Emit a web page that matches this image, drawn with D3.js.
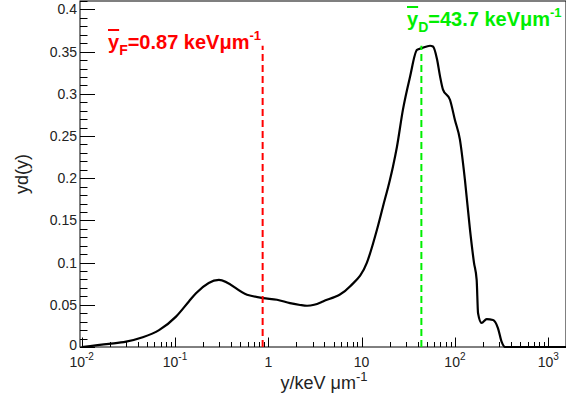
<!DOCTYPE html>
<html>
<head>
<meta charset="utf-8">
<script src="https://cdn.jsdelivr.net/npm/d3@7"></script>
<style>
  body { margin: 0; background: #fff; }
  text { font-family: "Liberation Sans", Arial, sans-serif; }
</style>
</head>
<body>
<div id="chart"></div>
<script>
// lineal energy y (keV/um) and yd(y)
var lineal_energy = [0.01, 0.0196, 0.0299, 0.0451, 0.0675, 0.1026, 0.141, 0.168, 0.296,
  0.592, 0.877, 1.24, 1.71, 2.19, 2.60, 3.1, 3.85, 7.50, 11.4, 14.6,
  16.9, 20.1, 21.7, 23.9, 27.7, 33.0, 39.2, 44.1, 54.1, 58.2,
  64.3, 69.2, 74.5, 88.5, 100, 113, 128, 145, 160, 171,
  177, 193, 219, 256, 289, 317, 344, 600, 1550];
var yd_values = [0, 0.0036, 0.0063, 0.0115, 0.020, 0.036, 0.054, 0.0637, 0.0795,
  0.062, 0.058, 0.056, 0.052, 0.0498, 0.0489, 0.0500, 0.0540, 0.0716, 0.10, 0.139,
  0.166, 0.198, 0.214, 0.237, 0.281, 0.32, 0.352, 0.354, 0.357, 0.356,
  0.341, 0.321, 0.305, 0.293, 0.269, 0.246, 0.198, 0.139, 0.10, 0.0795,
  0.040, 0.0285, 0.033, 0.032, 0.0225, 0.006, 0, 0, 0];

var y_major_ticks = [0, 0.05, 0.1, 0.15, 0.2, 0.25, 0.3, 0.35, 0.4];
var x_major_ticks = [0.01, 0.1, 1, 10, 100, 1000];
var x_tick_labels = [["10", "-2"], ["10", "-1"], ["1", ""], ["10", ""], ["10", "2"], ["10", "3"]];

var mean_names = ["F", "D"];
var mean_values = [0.87, 43.7];
var mean_colors = ["#ff0000", "#00ee00"];

var create_chart = function() {
  var width = 566, height = 401;
  var left = 80, right = 566, top = 1, bottom = 347;

  var svg = d3.select("#chart").append("svg")
      .attr("width", width)
      .attr("height", height);

  svg.append("rect").attr("width", width).attr("height", height).attr("fill", "#fff");

  var x_scale = d3.scaleLog().domain([0.0096, 1550]).range([left, right]);
  var y_scale = d3.scaleLinear().domain([0, 0.41]).range([bottom, top]);

  // frame
  svg.append("rect")
      .attr("x", left).attr("y", top)
      .attr("width", right - left).attr("height", bottom - top)
      .attr("fill", "none").attr("stroke", "#000").attr("stroke-width", 1);

  // y ticks (inside, ROOT style)
  var y_minor = d3.range(0, 0.4101, 0.01).filter(function(v) {
    return Math.abs(v / 0.05 - Math.round(v / 0.05)) > 1e-6;
  });
  svg.selectAll(".yminor").data(y_minor).enter().append("line")
      .attr("x1", left).attr("x2", left + 7.5)
      .attr("y1", function(d) { return Math.round(y_scale(d)) + 0.5; })
      .attr("y2", function(d) { return Math.round(y_scale(d)) + 0.5; })
      .attr("stroke", "#000");
  svg.selectAll(".ymajor").data(y_major_ticks).enter().append("line")
      .attr("x1", left).attr("x2", left + 15)
      .attr("y1", function(d) { return Math.round(y_scale(d)) + 0.5; })
      .attr("y2", function(d) { return Math.round(y_scale(d)) + 0.5; })
      .attr("stroke", "#000");
  svg.selectAll(".ylabel").data(y_major_ticks).enter().append("text")
      .attr("x", 77)
      .attr("y", function(d) { return y_scale(d) + (d === 0 ? 3 : 5); })
      .attr("text-anchor", "end")
      .attr("font-size", 14)
      .attr("fill", "#222")
      .text(function(d) { return d === 0 ? "0" : String(+d.toFixed(2)); });

  // x ticks (log)
  var x_minor = [];
  for (var e = -2; e <= 3; e++) {
    for (var m = 2; m <= 9; m++) {
      var v = m * Math.pow(10, e);
      if (v < 1550) x_minor.push(v);
    }
  }
  svg.selectAll(".xminor").data(x_minor).enter().append("line")
      .attr("x1", function(d) { return Math.round(x_scale(d)) + 0.5; })
      .attr("x2", function(d) { return Math.round(x_scale(d)) + 0.5; })
      .attr("y1", bottom).attr("y2", bottom - 5)
      .attr("stroke", "#000");
  svg.selectAll(".xmajor").data(x_major_ticks).enter().append("line")
      .attr("x1", function(d) { return Math.round(x_scale(d)) + 0.5; })
      .attr("x2", function(d) { return Math.round(x_scale(d)) + 0.5; })
      .attr("y1", bottom).attr("y2", bottom - 9.5)
      .attr("stroke", "#000");
  var xlab = svg.selectAll(".xlabel").data(x_major_ticks).enter().append("text")
      .attr("x", function(d) { return x_scale(d); })
      .attr("y", 367)
      .attr("text-anchor", "middle")
      .attr("font-size", 14)
      .attr("fill", "#222");
  xlab.each(function(d, i) {
    var t = d3.select(this);
    t.append("tspan").text(x_tick_labels[i][0]);
    if (x_tick_labels[i][1]) {
      t.append("tspan").attr("dy", -7).attr("font-size", 10).text(x_tick_labels[i][1]);
    }
  });

  // axis titles
  var xt = svg.append("text")
      .attr("x", 324).attr("y", 389)
      .attr("text-anchor", "middle")
      .attr("font-size", 18)
      .attr("fill", "#222");
  xt.append("tspan").text("y/keV \u03bcm");
  xt.append("tspan").attr("dy", -8).attr("font-size", 13).text("-1");

  svg.append("text")
      .attr("transform", "translate(28,174) rotate(-90)")
      .attr("text-anchor", "middle")
      .attr("font-size", 18)
      .attr("fill", "#222")
      .text("yd(y)");

  // spectrum
  var points = lineal_energy.map(function(d, i) { return [d, yd_values[i]]; });
  var line = d3.line()
      .x(function(d) { return x_scale(d[0]); })
      .y(function(d) { return y_scale(d[1]); })
      .curve(d3.curveMonotoneX);
  svg.append("path")
      .attr("d", line(points))
      .attr("fill", "none")
      .attr("stroke", "#000")
      .attr("stroke-width", 2.2)
      .attr("stroke-linejoin", "round");

  // mean markers
  var y_top = d3.max(yd_values);
  var label_pos = [[108, 49], [407, 26]];
  for (var k = 0; k < mean_values.length; k++) {
    svg.append("line")
        .attr("x1", x_scale(mean_values[k])).attr("x2", x_scale(mean_values[k]))
        .attr("y1", bottom).attr("y2", y_scale(y_top))
        .attr("stroke", mean_colors[k])
        .attr("stroke-width", 2)
        .attr("stroke-dasharray", "7,4");

    var lab = svg.append("text")
        .attr("x", label_pos[k][0]).attr("y", label_pos[k][1])
        .attr("font-size", 20)
        .attr("font-weight", "bold")
        .attr("fill", mean_colors[k]);
    lab.append("tspan").attr("text-decoration", "overline").text("y");
    lab.append("tspan").attr("dy", 6).attr("font-size", 14).text(mean_names[k]);
    lab.append("tspan").attr("dy", -6).text("=" + mean_values[k] + " keV\u03bcm");
    lab.append("tspan").attr("dy", -9).attr("font-size", 13).text("-1");
  }
};

create_chart();
</script>
</body>
</html>
